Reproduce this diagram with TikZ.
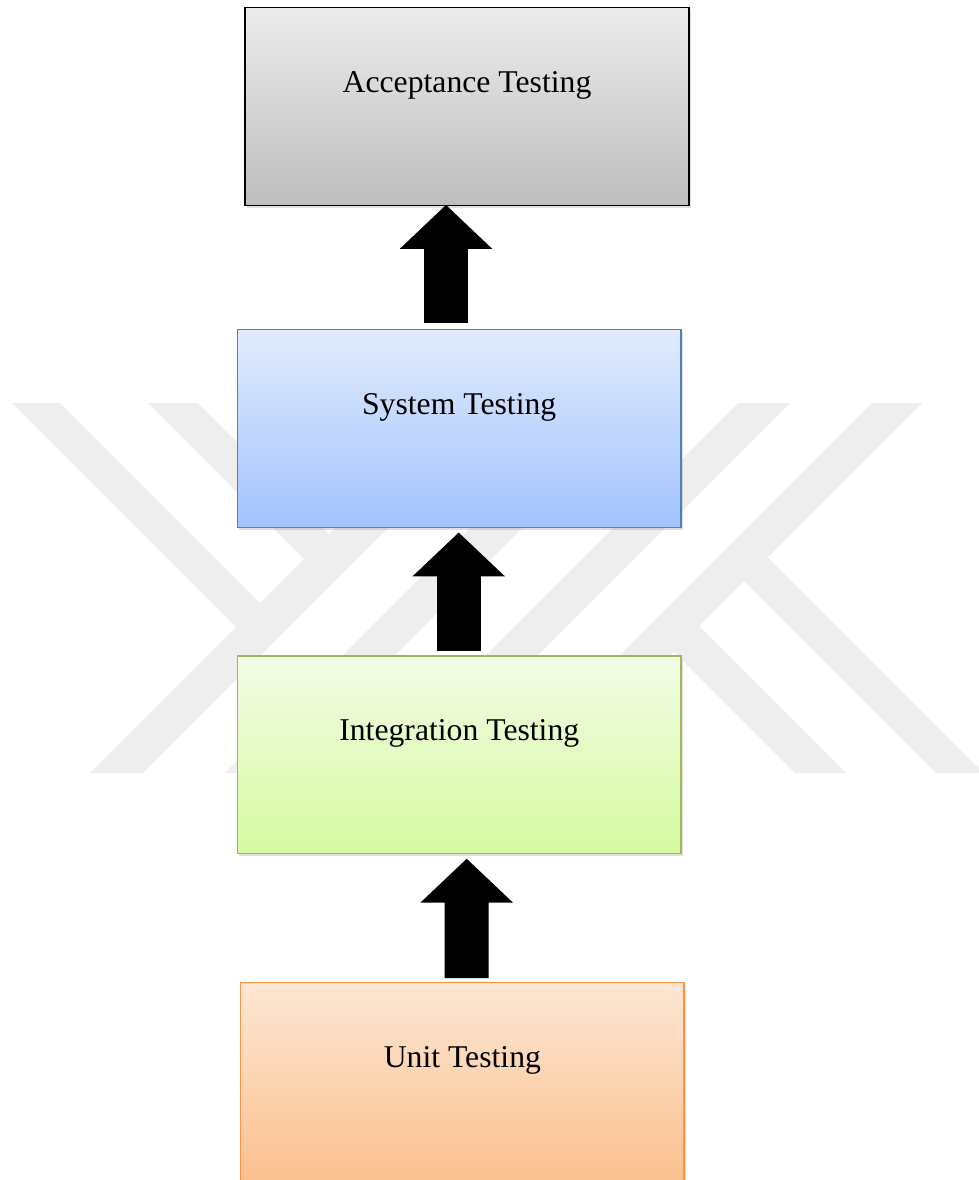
\documentclass[tikz,border=0pt]{standalone}
\usepackage{fontspec}
\setmainfont{Liberation Serif}
\usetikzlibrary{shadows,arrows.meta,calc}
\definecolor{wm}{RGB}{238,238,238}
\definecolor{accTop}{RGB}{236,236,236}
\definecolor{accBot}{RGB}{189,189,189}
\definecolor{sysTop}{RGB}{225,235,253}
\definecolor{sysBot}{RGB}{162,195,252}
\definecolor{sysLine}{RGB}{79,129,189}
\definecolor{intTop}{RGB}{243,252,230}
\definecolor{intBot}{RGB}{214,250,160}
\definecolor{intLine}{RGB}{155,187,89}
\definecolor{unitTop}{RGB}{253,231,212}
\definecolor{unitBot}{RGB}{251,188,135}
\definecolor{unitLine}{RGB}{247,150,70}
\begin{document}
\begin{tikzpicture}[x=1pt,y=-1pt,
  box/.style={rectangle, inner sep=0pt, minimum width=444pt, minimum height=198pt,
    line width=1.3pt, drop shadow={shadow xshift=1.5pt,shadow yshift=-2.5pt,opacity=0.25}},
  accbox/.style={box, draw=black, top color=accTop, bottom color=accBot},
  sysbox/.style={box, draw=sysLine, top color=sysTop, bottom color=sysBot},
  intbox/.style={box, draw=intLine, top color=intTop, bottom color=intBot},
  unitbox/.style={box, draw=unitLine, top color=unitTop, bottom color=unitBot},
  lbl/.style={anchor=base, font=\fontsize{31.7}{38}\selectfont, inner sep=0pt},
  bigarrow/.style={line width=44pt, -{Triangle[length=44pt,width=90pt]}},
  wmark/.style={fill=wm}]
\useasboundingbox (0,0) rectangle (979,1180);
\clip (0,0) rectangle (979,1180);
\fill[white] (0,0) rectangle (979,1180);
% watermark
\fill[wmark] (12,403) -- (60,403) -- (268.5,611.5) -- (244.5,635.5) -- cycle;
\fill[wmark] (148,403) -- (198,403) -- (337.5,542.5) -- (312.5,567.5) -- cycle;
\fill[wmark] (90,773) -- (143,773) -- (513,403) -- (460,403) -- cycle;
\fill[wmark] (225,773) -- (277,773) -- (647,403) -- (595,403) -- cycle;
\fill[wmark] (368,773) -- (420,773) -- (790,403) -- (738,403) -- cycle;
\fill[wmark] (502,773) -- (552,773) -- (922,403) -- (872,403) -- cycle;
\fill[wmark] (760,550) -- (983,773) -- (936,773) -- (736.5,573.5) -- cycle;
\fill[wmark] (691.5,618.5) -- (846,773) -- (795,773) -- (666,644) -- cycle;
% boxes
\node[accbox] (acc) at (467,106.75) {};
\node[sysbox, minimum width=443.7pt] (sys) at (459.15,428.5) {};
\node[intbox, minimum width=443.5pt, minimum height=197.5pt] (int) at (459.25,754.75) {};
\node[unitbox, minimum width=443.3pt, minimum height=217.3pt] (unit) at (462.35,1091.35) {};
% labels
\node[lbl] (acct) at ([shift={(0,85.5)}]acc.north) {Acceptance Testing};
\node[lbl] (syst) at ([shift={(0,85.7)}]sys.north) {System Testing};
\node[lbl] (intt) at ([shift={(0,85.5)}]int.north) {Integration Testing};
\node[lbl] (unitt) at ([shift={(0,85)}]unit.north) {Unit Testing};
% arrows
\coordinate (t1) at ([shift={(-21,-1.5)}]acc.south);
\coordinate (b1) at ([shift={(-13.15,-6.3)}]sys.north);
\coordinate (t2) at ([shift={(-0.45,4.3)}]sys.south);
\coordinate (b2) at ([shift={(-0.55,-4)}]int.north);
\coordinate (t3) at ([shift={(7.45,4.5)}]int.south);
\coordinate (b3) at ([shift={(4.35,-4)}]unit.north);
\draw[bigarrow] (b1) -- (t1);
\draw[bigarrow] (b2) -- (t2);
\draw[bigarrow] (b3) -- (t3);
\end{tikzpicture}
\end{document}
